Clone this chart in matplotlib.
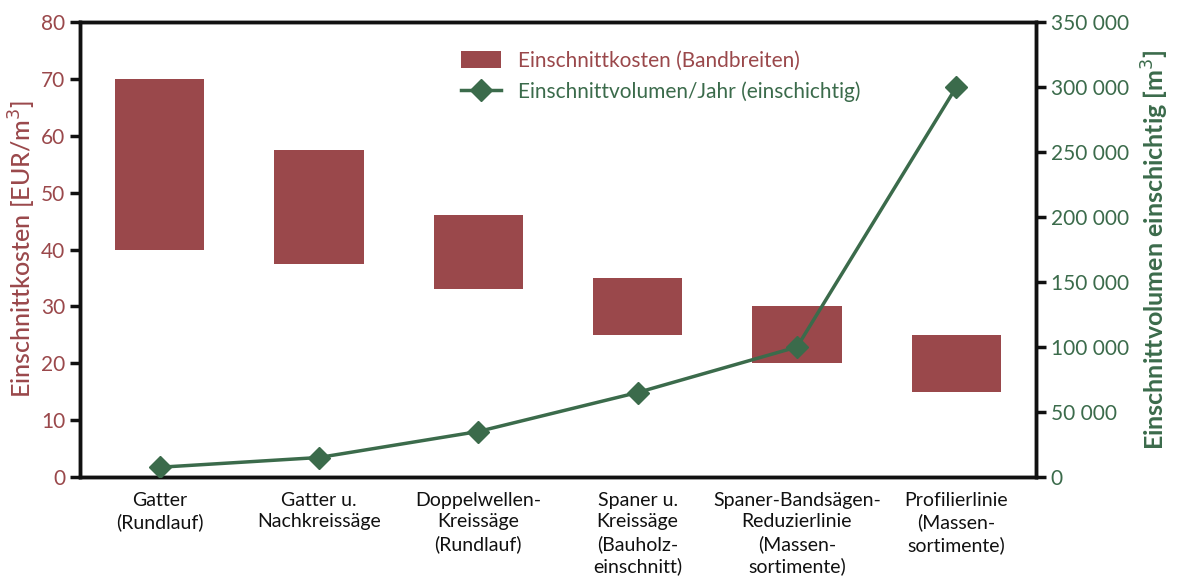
import numpy as np
import matplotlib.pyplot as plt
from matplotlib.patches import Patch
from matplotlib.lines import Line2D
from matplotlib.ticker import FuncFormatter

red = '#9a484b'
green = '#3b6b4b'

categories = ['Gatter\n(Rundlauf)', 'Gatter u.\nNachkreissäge', 'Doppelwellen-\nKreissäge\n(Rundlauf)',
              'Spaner u.\nKreissäge\n(Bauholz-\neinschnitt)', 'Spaner-Bandsägen-\nReduzierlinie\n(Massen-\nsortimente)',
              'Profilierlinie\n(Massen-\nsortimente)']
kosten_min = [40, 37.5, 33, 25, 20, 15]
kosten_max = [70, 57.5, 46, 35, 30, 25]
volumen = [7500, 15000, 35000, 65000, 100000, 300000]

plt.rcParams['font.family'] = ['Lato', 'DejaVu Sans']

fig = plt.figure(figsize=(11.79, 5.87), dpi=100)
ax1 = fig.add_axes([80/1179, 1-477/587, 956/1179, 455/587])
ax2 = ax1.twinx()

x = np.arange(len(categories))
ax1.bar(x, np.array(kosten_max)-np.array(kosten_min), bottom=kosten_min, width=0.56, color=red, zorder=2)
ax1.set_xlim(-0.5, 5.5)
ax1.set_ylim(0, 80)
ax1.set_yticks(range(0, 81, 10))
ax1.set_xticks(x)
ax1.set_xticklabels(categories, fontsize=14, color='#111111', linespacing=1.3)
ax1.tick_params(axis='x', length=0, pad=11)
ax1.tick_params(axis='y', colors='#111111', labelcolor=red, labelsize=15, length=7, width=2.5)
ax1.set_ylabel('Einschnittkosten [EUR/m$^3$]', color=red, fontsize=18, labelpad=2, fontweight='medium')

ax2.plot(x, volumen, color=green, linewidth=2.5, marker='D', markersize=11, zorder=3)
ax2.set_ylim(0, 350000)
ax2.set_yticks(range(0, 350001, 50000))
ax2.yaxis.set_major_formatter(FuncFormatter(lambda v, p: f'{int(v):,}'.replace(',', ' ')))
ax2.tick_params(axis='y', colors='#111111', labelcolor=green, labelsize=15, length=7, width=2.5)
ax2.set_ylabel('Einschnittvolumen einschichtig [m$^3$]', color=green, fontsize=18, labelpad=8, fontweight='bold')

for ax in (ax1, ax2):
    for s in ax.spines.values():
        s.set_linewidth(2.5)
        s.set_color('#111111')

handles = [Patch(facecolor=red, edgecolor='none'),
           Line2D([], [], color=green, linewidth=2.5, marker='D', markersize=11)]
labels = ['Einschnittkosten (Bandbreiten)', 'Einschnittvolumen/Jahr (einschichtig)']
leg = ax1.legend(handles, labels, loc='upper left', bbox_to_anchor=(0.39, 0.955), frameon=False,
                 fontsize=15, handlelength=1.9, handleheight=0.9, handletextpad=0.85,
                 labelspacing=0.5, borderaxespad=0)
leg.get_texts()[0].set_color(red)
leg.get_texts()[1].set_color(green)

fig.savefig('out.png', dpi=100)
